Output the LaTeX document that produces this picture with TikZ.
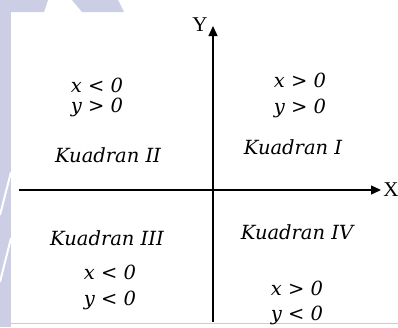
\documentclass[tikz,border=0pt]{standalone}
\usepackage{fontspec}
\setmainfont{DejaVu Serif}
\newfontfamily\axisfont{Liberation Serif}
\usetikzlibrary{arrows.meta}
\definecolor{markbg}{RGB}{203,206,229}
\definecolor{rulegray}{RGB}{205,205,205}
\tikzset{
  quad/.style={font=\fontsize{19.5}{22}\selectfont\itshape, inner sep=0pt},
  axislabel/.style={font=\axisfont\fontsize{21}{24}\selectfont, inner sep=0pt},
  axis/.style={line width=1.3pt, -{Triangle[length=10pt,width=9pt]}}
}

\begin{document}
\begin{tikzpicture}[x=1pt,y=-1pt]
    \useasboundingbox (0,0) rectangle (398,327);
    % background marks
    \fill[markbg] (0,0) rectangle (11,327);
    \fill[markbg] (0,0) -- (48,0) -- (44,12) -- (0,12) -- cycle;
    \fill[markbg] (72,0) -- (118,0) -- (124,12) -- (82,12) -- cycle;
    \draw[white, line width=2pt] (0,215) -- (11,172);
    \draw[white, line width=2pt] (0,282) -- (11,238);
    \draw[rulegray] (11,323) -- (398,323);
    % axes
    \coordinate (xl) at (19,190);
    \coordinate (xr) at (381,190);
    \coordinate (yb) at (213,322);
    \coordinate (yt) at (213,26);
    \draw[axis] (xl) -- (xr);
    \draw[axis] (yb) -- (yt);
    \node[axislabel] (ylab) at (200,25) {Y};
    \node[axislabel] (xlab) at (391,190) {X};
    % quadrant I
    \node[quad] (q1x) at (300,80) {x > 0};
    \node[quad] (q1y) at (300,108) {y > 0};
    \node[quad] (q1n) at (293,147) {Kuadran I};
    % quadrant II
    \node[quad] (q2x) at (97,85) {x < 0};
    \node[quad] (q2y) at (97,107) {y > 0};
    \node[quad] (q2n) at (108,155) {Kuadran II};
    % quadrant III
    \node[quad] (q3n) at (107,238) {Kuadran III};
    \node[quad] (q3x) at (110,272) {x < 0};
    \node[quad] (q3y) at (110,300) {y < 0};
    % quadrant IV
    \node[quad] (q4n) at (297,232) {Kuadran IV};
    \node[quad] (q4x) at (297,288) {x > 0};
    \node[quad] (q4y) at (297,315) {y < 0};
\end{tikzpicture}
\end{document}
